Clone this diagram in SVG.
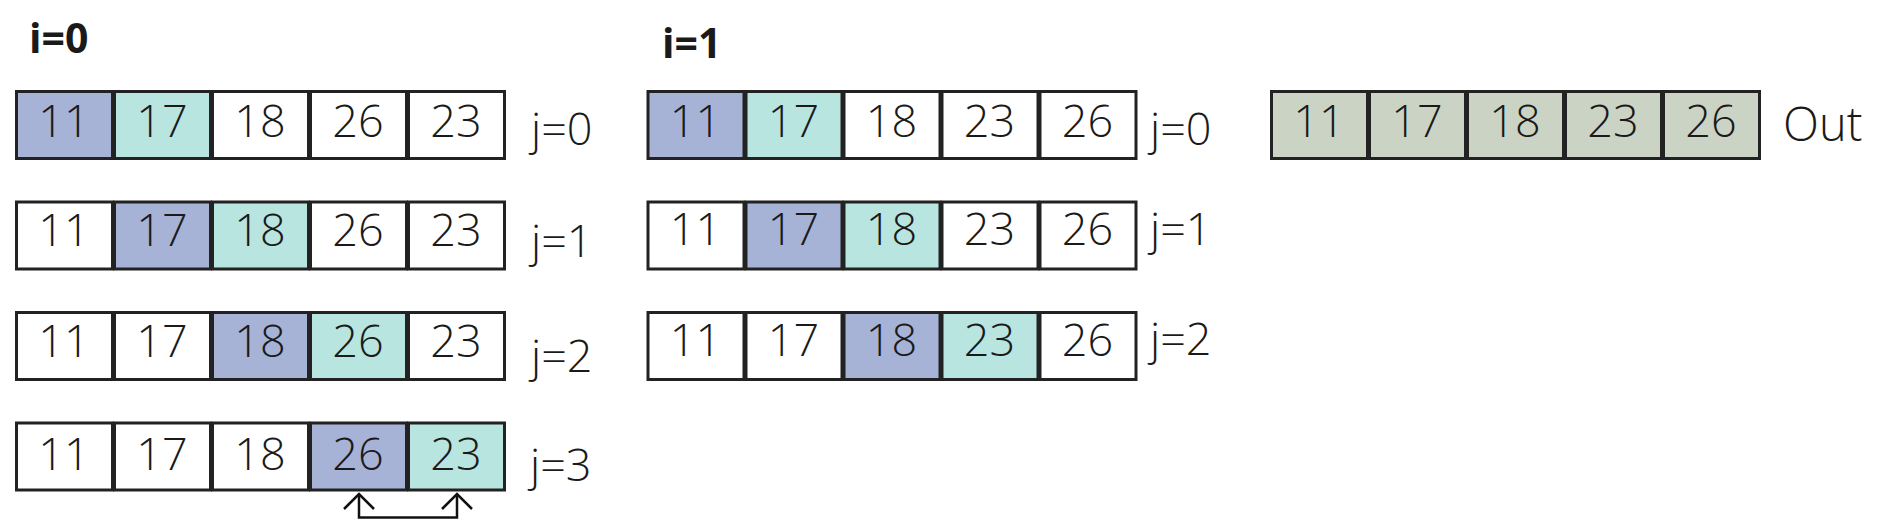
<svg xmlns="http://www.w3.org/2000/svg" width="1880" height="531" viewBox="0 0 1880 531">
<style>
.c{stroke:#222;stroke-width:3;fill:#fff}
.b{fill:#a6b3d6}
.t{fill:#b8e5e0}
.g{fill:#cbd4c4}
.n{font-family:"Open Sans","Liberation Sans",sans-serif;font-size:45px;font-weight:300;fill:#1a1a1a;text-anchor:middle}
.l{font-family:"Open Sans","Liberation Sans",sans-serif;font-size:45px;font-weight:300;fill:#1a1a1a}
.h{font-family:"Open Sans","Liberation Sans",sans-serif;font-size:41px;font-weight:bold;fill:#1a1a1a}
.a{stroke:#111;stroke-width:2.5;fill:none}
</style>

<text class="h" x="29" y="53">i=0</text>
<text class="h" x="662" y="58">i=1</text>

<g id="i0j0">
<rect class="c b" x="16.5" y="91.5" width="96" height="67"/>
<rect class="c t" x="114.5" y="91.5" width="96" height="67"/>
<rect class="c" x="212.5" y="91.5" width="96" height="67"/>
<rect class="c" x="310.5" y="91.5" width="96" height="67"/>
<rect class="c" x="408.5" y="91.5" width="96" height="67"/>
<text class="n" x="64" y="137">11</text><text class="n" x="162" y="137">17</text><text class="n" x="260" y="137">18</text><text class="n" x="358" y="137">26</text><text class="n" x="456" y="137">23</text>
<text class="l" x="531" y="145">j=0</text>
</g>
<g id="i0j1">
<rect class="c" x="16.5" y="202" width="96" height="67"/>
<rect class="c b" x="114.5" y="202" width="96" height="67"/>
<rect class="c t" x="212.5" y="202" width="96" height="67"/>
<rect class="c" x="310.5" y="202" width="96" height="67"/>
<rect class="c" x="408.5" y="202" width="96" height="67"/>
<text class="n" x="64" y="246">11</text><text class="n" x="162" y="246">17</text><text class="n" x="260" y="246">18</text><text class="n" x="358" y="246">26</text><text class="n" x="456" y="246">23</text>
<text class="l" x="531" y="257">j=1</text>
</g>
<g id="i0j2">
<rect class="c" x="16.5" y="312.5" width="96" height="67"/>
<rect class="c" x="114.5" y="312.5" width="96" height="67"/>
<rect class="c b" x="212.5" y="312.5" width="96" height="67"/>
<rect class="c t" x="310.5" y="312.5" width="96" height="67"/>
<rect class="c" x="408.5" y="312.5" width="96" height="67"/>
<text class="n" x="64" y="357">11</text><text class="n" x="162" y="357">17</text><text class="n" x="260" y="357">18</text><text class="n" x="358" y="357">26</text><text class="n" x="456" y="357">23</text>
<text class="l" x="531" y="372">j=2</text>
</g>
<g id="i0j3">
<rect class="c" x="16.5" y="423" width="96" height="67"/>
<rect class="c" x="114.5" y="423" width="96" height="67"/>
<rect class="c" x="212.5" y="423" width="96" height="67"/>
<rect class="c b" x="310.5" y="423" width="96" height="67"/>
<rect class="c t" x="408.5" y="423" width="96" height="67"/>
<text class="n" x="64" y="470">11</text><text class="n" x="162" y="470">17</text><text class="n" x="260" y="470">18</text><text class="n" x="358" y="470">26</text><text class="n" x="456" y="470">23</text>
<text class="l" x="530" y="481">j=3</text>
</g>

<g id="i1j0">
<rect class="c b" x="648" y="91.5" width="96" height="67"/>
<rect class="c t" x="746" y="91.5" width="96" height="67"/>
<rect class="c" x="844" y="91.5" width="96" height="67"/>
<rect class="c" x="942" y="91.5" width="96" height="67"/>
<rect class="c" x="1040" y="91.5" width="96" height="67"/>
<text class="n" x="695.5" y="137">11</text><text class="n" x="793.5" y="137">17</text><text class="n" x="891.5" y="137">18</text><text class="n" x="989.5" y="137">23</text><text class="n" x="1087.5" y="137">26</text>
<text class="l" x="1150" y="145">j=0</text>
</g>
<g id="i1j1">
<rect class="c" x="648" y="202" width="96" height="67"/>
<rect class="c b" x="746" y="202" width="96" height="67"/>
<rect class="c t" x="844" y="202" width="96" height="67"/>
<rect class="c" x="942" y="202" width="96" height="67"/>
<rect class="c" x="1040" y="202" width="96" height="67"/>
<text class="n" x="695.5" y="245">11</text><text class="n" x="793.5" y="245">17</text><text class="n" x="891.5" y="245">18</text><text class="n" x="989.5" y="245">23</text><text class="n" x="1087.5" y="245">26</text>
<text class="l" x="1150" y="245">j=1</text>
</g>
<g id="i1j2">
<rect class="c" x="648" y="312.5" width="96" height="67"/>
<rect class="c" x="746" y="312.5" width="96" height="67"/>
<rect class="c b" x="844" y="312.5" width="96" height="67"/>
<rect class="c t" x="942" y="312.5" width="96" height="67"/>
<rect class="c" x="1040" y="312.5" width="96" height="67"/>
<text class="n" x="695.5" y="356">11</text><text class="n" x="793.5" y="356">17</text><text class="n" x="891.5" y="356">18</text><text class="n" x="989.5" y="356">23</text><text class="n" x="1087.5" y="356">26</text>
<text class="l" x="1150" y="355">j=2</text>
</g>

<g id="out">
<rect class="c g" x="1271.5" y="91.5" width="96" height="67"/>
<rect class="c g" x="1369.5" y="91.5" width="96" height="67"/>
<rect class="c g" x="1467.5" y="91.5" width="96" height="67"/>
<rect class="c g" x="1565.5" y="91.5" width="96" height="67"/>
<rect class="c g" x="1663.5" y="91.5" width="96" height="67"/>
<text class="n" x="1319" y="137">11</text><text class="n" x="1417" y="137">17</text><text class="n" x="1515" y="137">18</text><text class="n" x="1613" y="137">23</text><text class="n" x="1711" y="137">26</text>
<text class="l" x="1783" y="141" style="font-size:47px">Out</text>
</g>

<g id="connectors">
<path class="a" d="M359,494 V517.5 H457 V494"/>
<path class="a" d="M344,509 L359,494 L374,509"/>
<path class="a" d="M442,509 L457,494 L472,509"/>
</g>
</svg>
